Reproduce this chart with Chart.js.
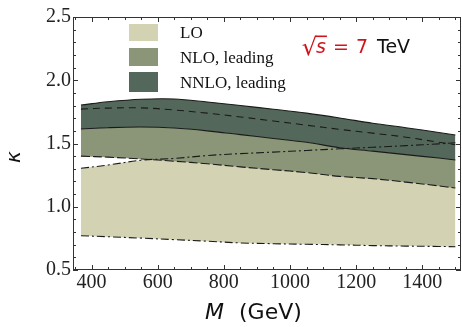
<!DOCTYPE html>
<html>
<head>
<meta charset="utf-8">
<script src="https://cdn.jsdelivr.net/npm/chart.js@4.4.1/dist/chart.umd.min.js"></script>
<style>
  html, body { margin: 0; padding: 0; background: #fff; }
  #wrap { width: 462px; height: 327px; }
</style>
</head>
<body>
<div id="wrap"><canvas id="kChart" width="462" height="327"></canvas></div>
<script>
// invariant mass points (GeV)
const massGeV   = [368, 450, 550, 650, 750, 850, 950, 1050, 1150, 1250, 1350, 1450, 1500];
// K-factor band edges
const nnloUpper = [1.804, 1.830, 1.850, 1.852, 1.828, 1.800, 1.771, 1.740, 1.702, 1.660, 1.625, 1.587, 1.567];
const nnloMid   = [1.772, 1.780, 1.782, 1.765, 1.740, 1.710, 1.678, 1.645, 1.612, 1.582, 1.550, 1.510, 1.490];
const nloUpper  = [1.615, 1.625, 1.630, 1.622, 1.600, 1.570, 1.540, 1.510, 1.467, 1.440, 1.412, 1.385, 1.370];
const nloLower  = [1.400, 1.392, 1.378, 1.360, 1.340, 1.315, 1.293, 1.270, 1.240, 1.222, 1.195, 1.165, 1.148];
const loUpper   = [1.304, 1.330, 1.368, 1.382, 1.405, 1.420, 1.432, 1.445, 1.458, 1.470, 1.483, 1.497, 1.506];
const loLower   = [0.771, 0.763, 0.752, 0.740, 0.728, 0.714, 0.708, 0.703, 0.699, 0.693, 0.689, 0.686, 0.684];

const legendLabels = ['LO', 'NLO, leading', 'NNLO, leading'];
const xTicks = [400, 600, 800, 1000, 1200, 1400];
const yTicks = [0.5, 1.0, 1.5, 2.0, 2.5];

const colLO = '#D3D2B3';
const colNLO = '#8A9677';
const colNNLO = '#53685A';
const lineCol = '#1a1a1a';

const pts = arr => massGeV.map((m, i) => ({ x: m, y: arr[i] }));

function edge(data, dash, fill, bg) {
  return {
    data: pts(data),
    borderColor: lineCol,
    borderWidth: 1.1,
    borderDash: dash,
    pointRadius: 0,
    tension: 0.35,
    fill: fill,
    backgroundColor: bg || 'transparent'
  };
}

// frame with inward ticks, legend and free text
const frameAndText = {
  id: 'frameAndText',
  afterDraw(chart) {
    const { ctx, chartArea: a, scales: { x, y } } = chart;
    ctx.save();
    ctx.strokeStyle = '#333';
    ctx.lineWidth = 1;
    ctx.strokeRect(a.left + 0.5, a.top + 0.5, a.right - a.left - 1, a.bottom - a.top - 1);

    ctx.beginPath();
    for (let v = 350; v <= 1500; v += 50) {
      const px = Math.round(x.getPixelForValue(v)) + 0.5;
      const len = xTicks.includes(v) ? 5 : 3;
      ctx.moveTo(px, a.bottom); ctx.lineTo(px, a.bottom - len);
      ctx.moveTo(px, a.top); ctx.lineTo(px, a.top + len);
    }
    for (let k = 5; k <= 25; k++) {
      const v = k / 10;
      const py = Math.round(y.getPixelForValue(v)) + 0.5;
      const len = k % 5 === 0 ? 5 : 3;
      ctx.moveTo(a.left, py); ctx.lineTo(a.left + len, py);
      ctx.moveTo(a.right, py); ctx.lineTo(a.right - len, py);
    }
    ctx.stroke();

    // legend
    const boxCols = [colLO, colNLO, colNNLO];
    const boxY = [24, 48, 72];
    const boxH = [17, 18, 20];
    const textY = [38, 63, 88];
    ctx.font = '17px "Liberation Serif"';
    ctx.textBaseline = 'alphabetic';
    ctx.textAlign = 'left';
    legendLabels.forEach((lab, i) => {
      ctx.fillStyle = boxCols[i];
      ctx.fillRect(129, boxY[i], 29, boxH[i]);
      ctx.fillStyle = '#111';
      ctx.fillText(lab, 180, textY[i]);
    });

    // sqrt(s) = 7 TeV
    ctx.fillStyle = '#d0141c';
    ctx.font = '24px "DejaVu Sans"';
    const rw = ctx.measureText('\u221A').width;
    const sx = 316;
    ctx.fillText('\u221A', sx - rw + 1, 55);
    ctx.font = 'italic 19px "DejaVu Sans"';
    ctx.fillText('s', sx, 53);
    const sw = ctx.measureText('s').width;
    ctx.fillRect(sx - 1, 35.5, sw + 2, 1.6);
    ctx.font = '19px "DejaVu Sans"';
    ctx.fillText('=', 333, 53);
    ctx.fillText('7', 356, 53);
    ctx.fillStyle = '#111';
    ctx.fillText('TeV', 377, 53);

    // axis titles
    ctx.fillStyle = '#111';
    ctx.font = 'italic 22px "DejaVu Sans"';
    ctx.fillText('M', 205, 319);
    ctx.font = '22px "DejaVu Sans"';
    ctx.fillText('(GeV)', 239, 319);

    ctx.translate(20, 157);
    ctx.rotate(-Math.PI / 2);
    ctx.textAlign = 'center';
    ctx.font = 'italic 20px "DejaVu Sans"';
    ctx.fillText('\u03BA', 0, 0);
    ctx.restore();
  }
};

const tickFont = { family: '"Liberation Serif"', size: 20 };

new Chart(document.getElementById('kChart'), {
  type: 'line',
  data: {
    datasets: [
      edge(nnloUpper, [], 2, colNNLO),
      edge(nnloMid, [7, 5], false),
      edge(nloUpper, [], 3, colNLO),
      edge(nloLower, [9, 3], false),
      edge(loUpper, [8, 3, 2, 3], 5, colLO),
      edge(loLower, [8, 3, 2, 3], false)
    ]
  },
  options: {
    responsive: false,
    animation: false,
    layout: { padding: { top: 17, right: 1, left: 0, bottom: 0 } },
    plugins: {
      legend: { display: false },
      tooltip: { enabled: false },
      filler: { drawTime: 'beforeDatasetsDraw', propagate: false }
    },
    scales: {
      x: {
        type: 'linear',
        min: 344,
        max: 1517,
        grid: { display: false, drawTicks: false },
        border: { display: false },
        afterBuildTicks: s => { s.ticks = xTicks.map(v => ({ value: v })); },
        afterFit: s => { s.height = 57; },
        ticks: { font: tickFont, color: '#222', padding: 1, maxRotation: 0, autoSkip: false, callback: v => String(v) }
      },
      y: {
        min: 0.5,
        max: 2.5,
        grid: { display: false, drawTicks: false },
        border: { display: false },
        afterBuildTicks: s => { s.ticks = yTicks.map(v => ({ value: v })); },
        afterFit: s => { s.width = 73; },
        ticks: { font: tickFont, color: '#222', padding: 2, callback: v => v.toFixed(1) }
      }
    }
  },
  plugins: [frameAndText]
});
</script>
</body>
</html>
